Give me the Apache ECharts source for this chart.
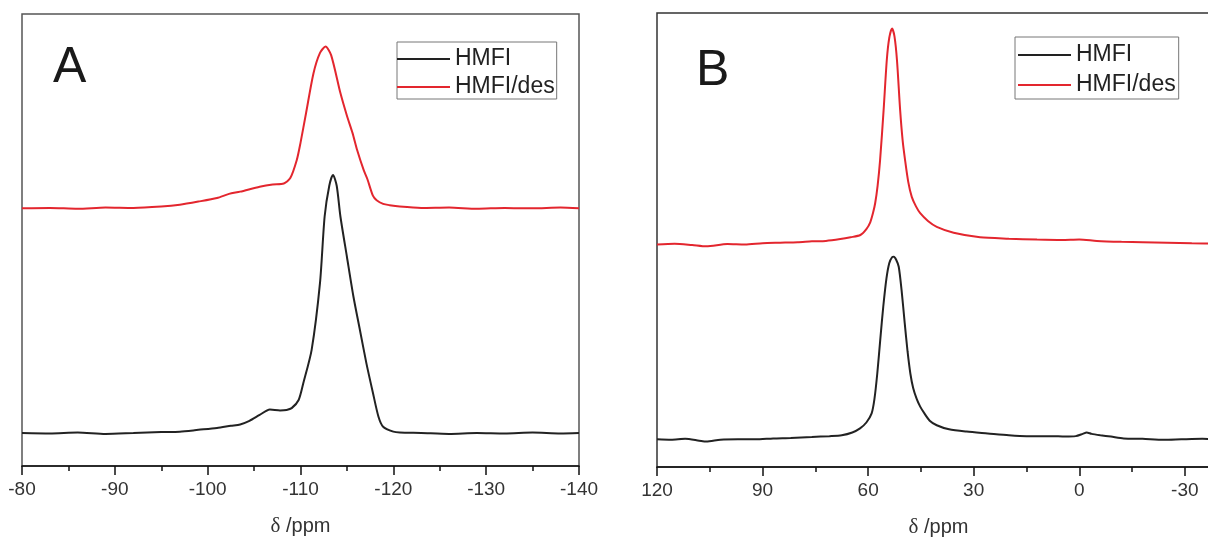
<!DOCTYPE html>
<html>
<head>
<meta charset="utf-8">
<script src="https://cdn.jsdelivr.net/npm/echarts@6/dist/echarts.min.js"></script>
<style>
  html, body { margin: 0; padding: 0; background: #fff; }
  #chart { width: 1208px; height: 540px; }
</style>
</head>
<body>
<div id="chart"></div>
<script>
// panel A: 29Si shift (ppm) vs intensity (a.u., stacked)
const hmfiA = [
  [-80, 7.3], [-83, 7.2], [-86, 7.4], [-89, 7.1], [-92, 7.3], [-95, 7.5], [-97, 7.6],
  [-99, 8.0], [-101, 8.4], [-102.5, 8.9], [-103.5, 9.2], [-104.5, 10.0], [-105.6, 11.3],
  [-106.7, 12.5], [-107.8, 12.3], [-108.5, 12.4], [-109.05, 12.8], [-109.8, 14.6],
  [-110.3, 18.3], [-111.2, 25.7], [-112.1, 40.5], [-112.6, 55.2], [-113.1, 62.0],
  [-113.5, 64.4], [-113.9, 62.0], [-114.3, 55.2], [-115.0, 46.3], [-115.7, 37.5],
  [-116.4, 30.1], [-117.1, 22.7], [-117.8, 16.2], [-118.4, 10.9], [-118.9, 8.7],
  [-120.0, 7.6], [-120.7, 7.4], [-123, 7.3], [-126, 7.1], [-129, 7.3], [-132, 7.2],
  [-135, 7.4], [-138, 7.2], [-140, 7.3]
]
const hmfiDesA = [
  [-80, 57.0], [-83, 57.1], [-86, 56.9], [-89, 57.2], [-92, 57.1], [-95, 57.4], [-97, 57.8],
  [-99, 58.5], [-101, 59.3], [-102.3, 60.2], [-103.5, 60.7], [-105.6, 61.8], [-107, 62.3],
  [-108.2, 62.5], [-108.9, 63.7], [-109.6, 67.7], [-110.0, 71.5], [-110.6, 78.1],
  [-111.4, 86.9], [-112.1, 91.4], [-112.7, 92.8], [-113.3, 90.9], [-114.3, 82.5],
  [-115.0, 77.5], [-115.6, 73.7], [-116.1, 69.9], [-116.8, 65.5], [-117.2, 63.5],
  [-117.8, 59.8], [-118.2, 58.8], [-118.9, 58.0], [-119.6, 57.7], [-120.7, 57.4],
  [-123, 57.1], [-126, 57.2], [-129, 56.9], [-132, 57.1], [-135, 57.0], [-138, 57.2], [-140, 57.0]
]

// panel B: 13C shift (ppm) vs intensity (a.u., stacked)
const hmfiB = [
  [120, 6.1], [116, 6.0], [112, 6.2], [108, 5.8], [106, 5.6], [102, 6.0], [97, 6.1],
  [92, 6.1], [87, 6.3], [82, 6.4], [76, 6.6], [71, 6.8], [67.5, 7.0], [64.5, 7.6],
  [62.3, 8.5], [60.5, 9.8], [59.0, 11.8], [58.2, 15.0], [57.4, 20.6], [56.5, 28.5],
  [55.7, 35.3], [54.8, 41.5], [54.0, 44.9], [53.2, 46.2], [52.7, 46.3], [52.0, 45.6],
  [51.3, 44.1], [50.5, 39.0], [49.6, 31.7], [48.8, 25.5], [48.0, 20.6], [47.2, 17.4],
  [46.2, 15.0], [45.2, 13.3], [44, 11.8], [42.5, 10.2], [40.5, 9.2], [37, 8.3], [32, 7.8],
  [26, 7.4], [20, 7.0], [15, 6.8], [8, 6.8], [4, 6.7], [1, 6.8], [-1, 7.3], [-2.1, 7.6],
  [-3.5, 7.3], [-6, 7.0], [-9, 6.7], [-12.6, 6.3], [-18, 6.2], [-24, 6.0], [-29, 6.1],
  [-35, 6.2], [-40, 6.1]
]
const hmfiDesB = [
  [120, 49.0], [115, 49.2], [110, 48.9], [106, 48.6], [100, 49.1], [95, 49.0], [90, 49.3],
  [85, 49.4], [80, 49.5], [76, 49.7], [72, 49.8], [67.9, 50.2], [65, 50.6], [62.2, 51.1],
  [60.5, 52.4], [59.4, 53.9], [58.6, 56.0], [58, 58.1], [57.3, 62.0], [56.6, 67.6],
  [55.6, 78.6], [54.7, 89.6], [54.0, 94.5], [53.2, 96.6], [52.5, 94.8], [51.8, 89.6],
  [50.9, 78.6], [50.2, 72.0], [49.5, 67.6], [48.6, 62.8], [47.6, 59.5], [46.4, 57.4],
  [45.2, 55.9], [43, 54.2], [40.5, 52.9], [35.7, 51.6], [28.2, 50.6], [20, 50.3], [12, 50.1],
  [5, 50.0], [0, 50.1], [-5, 49.8], [-12, 49.6], [-18, 49.5], [-25, 49.4], [-32, 49.3], [-40, 49.2]
]

const seriesNames = ['HMFI', 'HMFI/des']
const ticksB = [120, 90, 60, 30, 0, -30]
const minorTicksB = [105, 75, 45, 15, -15]

const FONT = 'Liberation Sans, Arial, sans-serif'
const BLACK = '#222222'
const RED = '#e3262e'

const chart = echarts.init(document.getElementById('chart'))

const axisName = {
  name: '{d|δ} /ppm',
  nameLocation: 'middle',
  nameGap: 50,
  nameTextStyle: {
    fontFamily: FONT,
    fontSize: 20,
    color: '#333',
    rich: {
      d: { fontFamily: 'Liberation Serif, serif', fontSize: 21, color: '#333' }
    }
  }
}

function lineSeries(name, data, color, idx) {
  return {
    name: name,
    type: 'line',
    xAxisIndex: idx,
    yAxisIndex: idx,
    data: data,
    symbol: 'none',
    smooth: 0.25,
    color: color,
    lineStyle: { color: color, width: 2 }
  }
}

function legendAt(left, top, padding, gap) {
  return {
    left: left,
    top: top,
    orient: 'vertical',
    data: seriesNames,
    icon: 'rect',
    itemWidth: 53,
    itemHeight: 2,
    itemGap: gap,
    padding: padding,
    borderColor: '#777',
    borderWidth: 1,
    textStyle: { fontFamily: FONT, fontSize: 23, lineHeight: 24, color: '#222' }
  }
}

chart.setOption({
  animation: false,
  backgroundColor: '#fff',
  grid: [
    { left: 22, top: 14, width: 557, height: 452, show: true, borderColor: '#555', borderWidth: 1.5, outerBoundsMode: 'none' },
    { left: 657, top: 13, width: 563, height: 454, show: true, borderColor: '#333', borderWidth: 1.5, outerBoundsMode: 'none' }
  ],
  legend: [
    legendAt(397, 42, [5, 2, 0, 0], 4),
    legendAt(1015, 37, [6, 3, 2, 3], 6)
  ],
  xAxis: [
    Object.assign({
      gridIndex: 0,
      type: 'value',
      inverse: true,
      min: -140,
      max: -80,
      interval: 10,
      axisLine: { lineStyle: { color: '#111', width: 1.5 } },
      axisTick: { length: 9, lineStyle: { color: '#111', width: 1.5 } },
      minorTick: { show: true, splitNumber: 2, length: 5, lineStyle: { color: '#111', width: 1.5 } },
      axisLabel: { fontFamily: FONT, fontSize: 19, color: '#333', margin: 14 },
      splitLine: { show: false }
    }, axisName),
    Object.assign({
      gridIndex: 1,
      type: 'value',
      inverse: true,
      min: -40,
      max: 120,
      position: 'bottom',
      axisLine: { lineStyle: { color: '#111', width: 1.5 } },
      axisTick: { length: 9, customValues: ticksB, lineStyle: { color: '#111', width: 1.5 } },
      axisLabel: { customValues: ticksB, fontFamily: FONT, fontSize: 19, color: '#333', margin: 14 },
      splitLine: { show: false }
    }, axisName),
    {
      gridIndex: 1,
      type: 'value',
      inverse: true,
      min: -40,
      max: 120,
      position: 'bottom',
      axisLine: { show: false },
      axisTick: { length: 5, customValues: minorTicksB, lineStyle: { color: '#111', width: 1.5 } },
      axisLabel: { show: false },
      splitLine: { show: false }
    }
  ],
  yAxis: [
    { gridIndex: 0, type: 'value', min: 0, max: 100, show: false },
    { gridIndex: 1, type: 'value', min: 0, max: 100, show: false }
  ],
  graphic: [
    { type: 'text', left: 53, top: 43, style: { text: 'A', font: '50px ' + FONT, fill: '#1a1a1a' } },
    { type: 'text', left: 696, top: 46, style: { text: 'B', font: '50px ' + FONT, fill: '#1a1a1a' } }
  ],
  series: [
    lineSeries('HMFI', hmfiA, BLACK, 0),
    lineSeries('HMFI/des', hmfiDesA, RED, 0),
    lineSeries('HMFI', hmfiB, BLACK, 1),
    lineSeries('HMFI/des', hmfiDesB, RED, 1)
  ]
})
</script>
</body>
</html>
